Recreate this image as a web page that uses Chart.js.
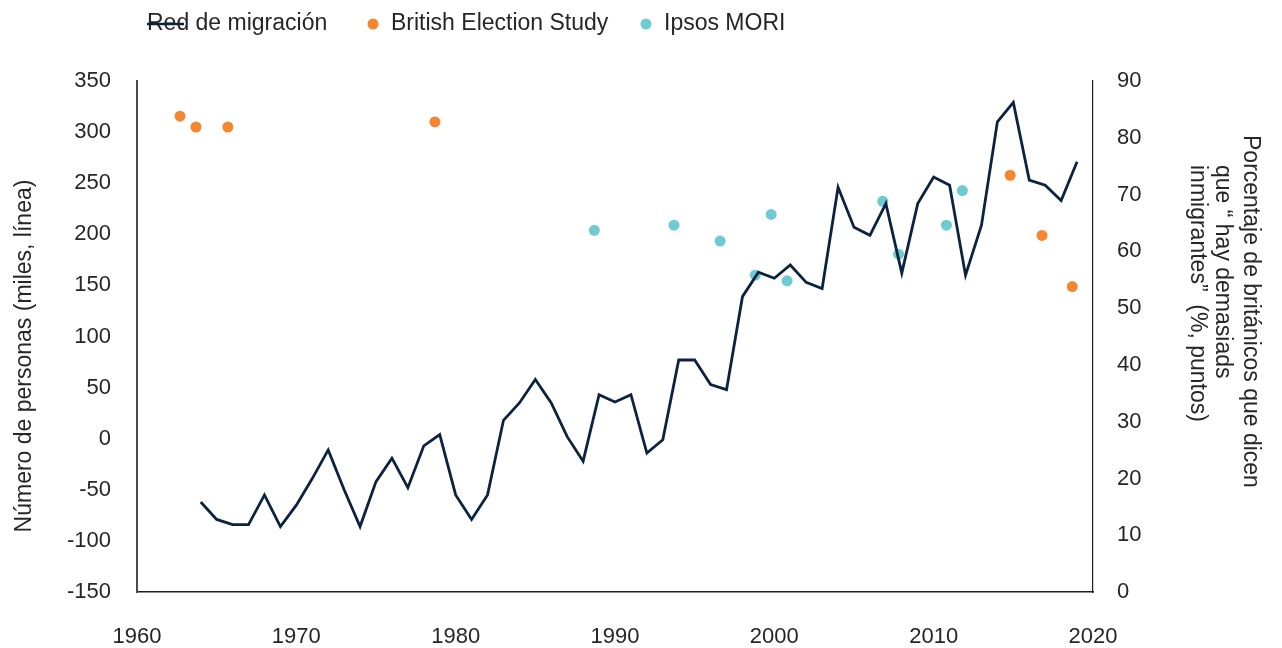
<!DOCTYPE html>
<html lang="es">
  <head>
    <meta charset="UTF-8" />
    <meta name="viewport" content="width=device-width, initial-scale=1.0" />
    <script src="https://cdn.jsdelivr.net/npm/chart.js@4.4.0/dist/chart.umd.min.js"></script>
    <title>Red de migración</title>
    <style>
      body {
        margin: 0;
        padding: 0;
        background: #fff;
      }

      .container {
        position: relative;
        width: 1282px;
        height: 648px;
      }
    </style>
  </head>
  <body>
    <div class="container">
      <canvas id="chart"></canvas>
    </div>
    <script>
      // net migration, thousands (left axis)
      const years = [
        1964, 1965, 1966, 1967, 1968, 1969, 1970, 1971, 1972, 1973,
        1974, 1975, 1976, 1977, 1978, 1979, 1980, 1981, 1982, 1983,
        1984, 1985, 1986, 1987, 1988, 1989, 1990, 1991, 1992, 1993,
        1994, 1995, 1996, 1997, 1998, 1999, 2000, 2001, 2002, 2003,
        2004, 2005, 2006, 2007, 2008, 2009, 2010, 2011, 2012, 2013,
        2014, 2015, 2016, 2017, 2018, 2019,
      ]
      const netMigration = [
        -62, -79, -84, -84, -55, -86, -65, -39, -11, -50,
        -86, -42, -19, -48, -7, 4, -55, -79, -55, 18,
        35, 58, 35, 2, -22, 43, 36, 43, -14, -1,
        77, 77, 53, 48, 139, 163, 157, 170, 153, 147,
        246, 207, 199, 230, 162, 230, 256, 248, 160, 209,
        310, 329, 253, 248, 233, 271,
      ]

      // survey points, % (right axis)
      const besYears = [1962.7, 1963.7, 1965.7, 1978.7, 2014.8, 2016.8, 2018.7]
      const besValues = [83.8, 81.9, 81.9, 82.8, 73.4, 62.8, 53.8]
      const ipsosYears = [1988.7, 1993.7, 1996.6, 1998.8, 1999.8, 2000.8, 2006.8, 2007.8, 2010.8, 2011.8]
      const ipsosValues = [63.7, 64.6, 61.8, 55.8, 66.5, 54.8, 68.8, 59.5, 64.6, 70.7]

      const leftTitle = 'Número de personas (miles, línea)'
      const rightTitle = [
        'Porcentaje de británicos que dicen',
        'que “ hay demasiads',
        'inmigrantes”  (%, puntos)',
      ]

      const FONT = '"Liberation Sans", Arial, sans-serif'
      const TEXT = '#262626'
      const NAVY = '#0c2340'
      const ORANGE = '#f4862f'
      const CYAN = '#6dcbd1'

      const toPoints = (xs, ys) => xs.map((x, i) => ({ x: x, y: ys[i] }))

      // legend + axis titles drawn by hand to match the original layout
      const extras = {
        id: 'extras',
        afterDraw(chart) {
          const ctx = chart.ctx
          ctx.save()
          ctx.font = '23px ' + FONT
          ctx.fillStyle = TEXT
          ctx.textBaseline = 'middle'
          ctx.textAlign = 'left'

          const legendY = 24
          const legendX = [147, 373, 646]
          chart.data.datasets.forEach((ds, i) => {
            const x = legendX[i]
            if (ds.type === 'line') {
              ctx.fillStyle = TEXT
              ctx.fillText(ds.label, x, legendY)
              ctx.strokeStyle = ds.borderColor
              ctx.lineWidth = 2.5
              ctx.beginPath()
              ctx.moveTo(x, legendY)
              ctx.lineTo(x + 37, legendY)
              ctx.stroke()
            } else {
              ctx.fillStyle = ds.backgroundColor
              ctx.beginPath()
              ctx.arc(x, legendY, 5.5, 0, Math.PI * 2)
              ctx.fill()
              ctx.fillStyle = TEXT
              ctx.fillText(ds.label, x + 18, legendY)
            }
          })

          ctx.fillStyle = TEXT
          ctx.save()
          ctx.translate(25, 356)
          ctx.rotate(-Math.PI / 2)
          ctx.textAlign = 'center'
          ctx.fillText(leftTitle, 0, 0)
          ctx.restore()

          const rx = [1250, 1222, 1197]
          const ry = [135, 165, 165]
          rightTitle.forEach((line, i) => {
            ctx.save()
            ctx.translate(rx[i], ry[i])
            ctx.rotate(Math.PI / 2)
            ctx.fillText(line, 0, 0)
            ctx.restore()
          })
          ctx.restore()
        },
      }

      const plain = (v) => String(v)

      const chart = new Chart(document.getElementById('chart'), {
        type: 'line',
        data: {
          datasets: [
            {
              type: 'line',
              label: 'Red de migración',
              data: toPoints(years, netMigration),
              borderColor: NAVY,
              backgroundColor: NAVY,
              borderWidth: 2.8,
              pointRadius: 0,
              tension: 0,
              yAxisID: 'y',
            },
            {
              type: 'scatter',
              label: 'British Election Study',
              data: toPoints(besYears, besValues),
              backgroundColor: ORANGE,
              borderWidth: 0,
              pointRadius: 5.5,
              yAxisID: 'y1',
            },
            {
              type: 'scatter',
              label: 'Ipsos MORI',
              data: toPoints(ipsosYears, ipsosValues),
              backgroundColor: CYAN,
              borderWidth: 0,
              pointRadius: 5.5,
              yAxisID: 'y1',
            },
          ],
        },
        options: {
          responsive: true,
          maintainAspectRatio: false,
          animation: false,
          layout: {
            padding: { top: 81, left: 0, right: 0, bottom: 0 },
          },
          plugins: {
            legend: { display: false },
            title: { display: false },
            tooltip: { enabled: false },
          },
          scales: {
            x: {
              type: 'linear',
              min: 1960,
              max: 2020,
              afterFit: (s) => { s.height = 56 },
              ticks: {
                stepSize: 10,
                callback: plain,
                color: TEXT,
                font: { family: FONT, size: 22 },
                padding: 32,
                maxRotation: 0,
              },
              grid: { display: false, drawTicks: false },
              border: { display: true, color: '#1f1f1f', width: 1.5 },
            },
            y: {
              position: 'left',
              min: -150,
              max: 350,
              afterFit: (s) => { s.width = 137 },
              ticks: {
                stepSize: 50,
                callback: plain,
                color: TEXT,
                font: { family: FONT, size: 22 },
                padding: 26,
              },
              grid: { display: false, drawTicks: false },
              border: { display: true, color: '#4a4a4a', width: 2 },
            },
            y1: {
              position: 'right',
              min: 0,
              max: 90,
              afterFit: (s) => { s.width = 189 },
              ticks: {
                stepSize: 10,
                callback: plain,
                color: TEXT,
                font: { family: FONT, size: 22 },
                padding: 24,
              },
              grid: { display: false, drawTicks: false },
              border: { display: true, color: '#1f1f1f', width: 1.2 },
            },
          },
        },
        plugins: [extras],
      })
    </script>
  </body>
</html>
